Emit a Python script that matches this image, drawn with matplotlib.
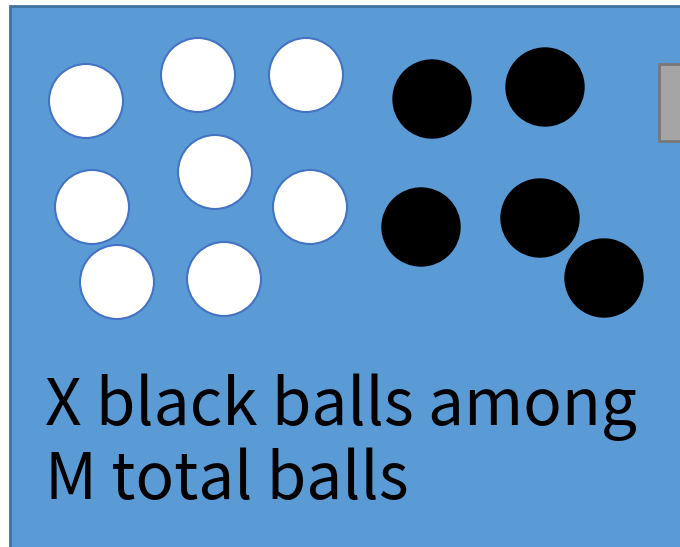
import matplotlib
matplotlib.use("Agg")
import matplotlib.pyplot as plt
from matplotlib.patches import Circle, Rectangle

# ball centres (pixel coordinates of the drawing, y downward)
white_x = [86, 198, 306, 215, 92, 310, 117, 224]
white_y = [101, 75, 75, 172, 207, 207, 282, 279]
black_x = [432, 545, 421, 540, 604]
black_y = [99, 87, 227, 218, 278]
white_r = 37
black_r = 39

caption = ["X black balls among", "M total balls"]

fig = plt.figure(figsize=(6.8, 5.47), dpi=100)
ax = fig.add_axes([0, 0, 1, 1])
ax.set_xlim(0, 680)
ax.set_ylim(547, 0)
ax.axis("off")

# urn box
ax.add_patch(Rectangle((10, 6), 700, 600, facecolor="#5B9BD5",
                       edgecolor="#41719C", linewidth=2))
# grey box peeking in on the right
ax.add_patch(Rectangle((659, 64), 60, 77, facecolor="#A5A5A5",
                       edgecolor="#787878", linewidth=2))

for x, y in zip(white_x, white_y):
    ax.add_patch(Circle((x, y), white_r, facecolor="white",
                        edgecolor="#4472C4", linewidth=1.5))
for x, y in zip(black_x, black_y):
    ax.add_patch(Circle((x, y), black_r, facecolor="black",
                        edgecolor="black", linewidth=1))

font = ["Noto Sans CJK JP", "DejaVu Sans"]
ax.text(45, 425, caption[0], fontsize=46, family=font,
        va="baseline", ha="left", color="black")
ax.text(45, 499, caption[1], fontsize=46, family=font,
        va="baseline", ha="left", color="black")

fig.savefig("out.png", dpi=100)
plt.close(fig)
